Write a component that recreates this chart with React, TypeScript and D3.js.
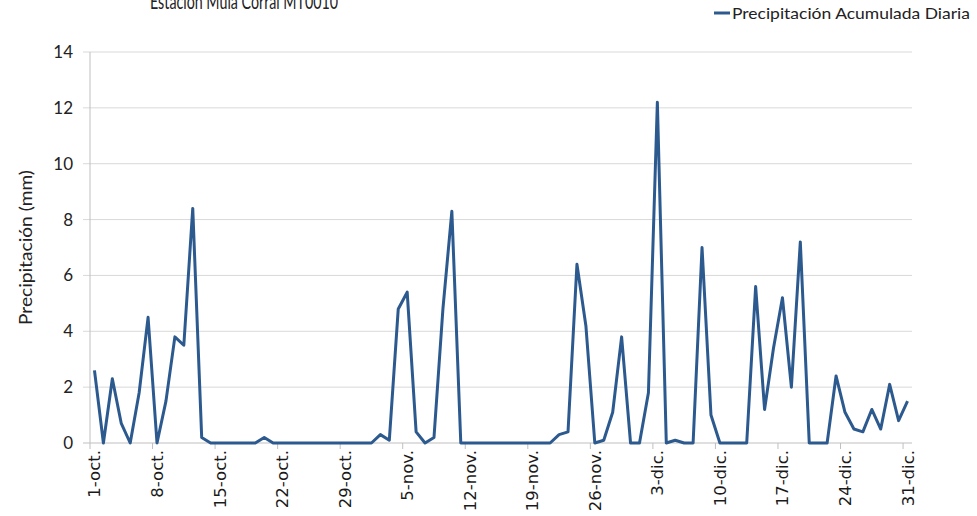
import * as d3 from 'd3';

// daily precipitation, 1-oct .. 31-dic (92 days)
const precip: number[] = [
  2.6, 0, 2.3, 0.7, 0, 1.8, 4.5, 0, 1.5, 3.8, 3.5, 8.4, 0.2,
  0, 0, 0, 0, 0, 0,
  0.2,
  0, 0, 0, 0, 0, 0, 0, 0, 0, 0, 0, 0,
  0.3, 0.1, 4.8, 5.4, 0.4, 0, 0.2, 4.8, 8.3,
  0, 0, 0, 0, 0, 0, 0, 0, 0, 0, 0,
  0.3, 0.4, 6.4, 4.2, 0, 0.1, 1.1, 3.8, 0, 0, 1.8, 12.2, 0, 0.1, 0, 0, 7.0, 1.0,
  0, 0, 0, 0,
  5.6, 1.2, 3.4, 5.2, 2.0, 7.2, 0, 0, 0, 2.4, 1.1, 0.5, 0.4, 1.2, 0.5, 2.1, 0.8, 1.5,
];

const xTickLabels = [
  '1-oct.', '8-oct.', '15-oct.', '22-oct.', '29-oct.', '5-nov.', '12-nov.',
  '19-nov.', '26-nov.', '3-dic.', '10-dic.', '17-dic.', '24-dic.', '31-dic.',
];

const yTicks = [0, 2, 4, 6, 8, 10, 12, 14];

const title = 'Estación Mula Corral MT0010';
const seriesName = 'Precipitación Acumulada Diaria';
const yTitle = 'Precipitación (mm)';

const width = 977;
const height = 516;
const plot = { left: 90, right: 912, top: 52, bottom: 443 };
const lineColor = '#2C5A8F';
const calibriLike = 'Lato, "Open Sans", sans-serif';

export default function App() {
  const x = d3
    .scaleLinear()
    .domain([-0.5, precip.length - 0.5])
    .range([plot.left, plot.right]);
  const y = d3.scaleLinear().domain([0, 14]).range([plot.bottom, plot.top]);

  const line = d3
    .line<number>()
    .x((_, i) => x(i))
    .y(d => y(d));

  // tick marks sit between days, every 7 days
  const boundaries = d3.range(0, precip.length + 1, 7).map(i => i - 0.5);

  return (
    <svg
      width={width}
      height={height}
      style={{ position: 'absolute', left: 0, top: 0, background: '#fff' }}
    >
      <text
        x={150}
        y={9}
        fontFamily={calibriLike}
        fontSize={21}
        fill="#222"
        textLength={188}
        lengthAdjust="spacingAndGlyphs"
      >
        {title}
      </text>

      {/* legend */}
      <line x1={714} x2={730} y1={13} y2={13} stroke={lineColor} strokeWidth={3} />
      <text
        x={732}
        y={19}
        fontFamily={calibriLike}
        fontSize={16}
        fill="#222"
        textLength={238}
        lengthAdjust="spacingAndGlyphs"
      >
        {seriesName}
      </text>

      {/* gridlines + y ticks */}
      {yTicks.map(t => (
        <g key={t}>
          <line
            x1={plot.left - 7}
            x2={plot.right}
            y1={y(t)}
            y2={y(t)}
            stroke={t === 0 ? '#BFBFBF' : '#D9D9D9'}
            strokeWidth={1}
          />
          <text
            x={73}
            y={y(t)}
            dy="0.35em"
            textAnchor="end"
            fontFamily={calibriLike}
            fontSize={17}
            fill="#222"
          >
            {t}
          </text>
        </g>
      ))}

      <line x1={plot.left} x2={plot.left} y1={plot.top} y2={plot.bottom} stroke="#BFBFBF" />

      {boundaries.map(b => (
        <line
          key={b}
          x1={x(b)}
          x2={x(b)}
          y1={plot.bottom}
          y2={plot.bottom + 6}
          stroke="#BFBFBF"
        />
      ))}

      {xTickLabels.map((lab, k) => (
        <text
          key={lab}
          transform={`translate(${x(k * 7) + 6},${plot.bottom + 7}) rotate(-90)`}
          textAnchor="end"
          fontFamily='"DejaVu Sans", sans-serif'
          fontSize={16.5}
          fill="#1a1a1a"
        >
          {lab}
        </text>
      ))}

      <text
        transform={`translate(32,${(plot.top + plot.bottom) / 2}) rotate(-90)`}
        textAnchor="middle"
        fontFamily={calibriLike}
        fontSize={18}
        fill="#222"
        textLength={155}
        lengthAdjust="spacingAndGlyphs"
      >
        {yTitle}
      </text>

      <path
        d={line(precip) ?? ''}
        fill="none"
        stroke={lineColor}
        strokeWidth={3}
        strokeLinejoin="round"
      />
    </svg>
  );
}
